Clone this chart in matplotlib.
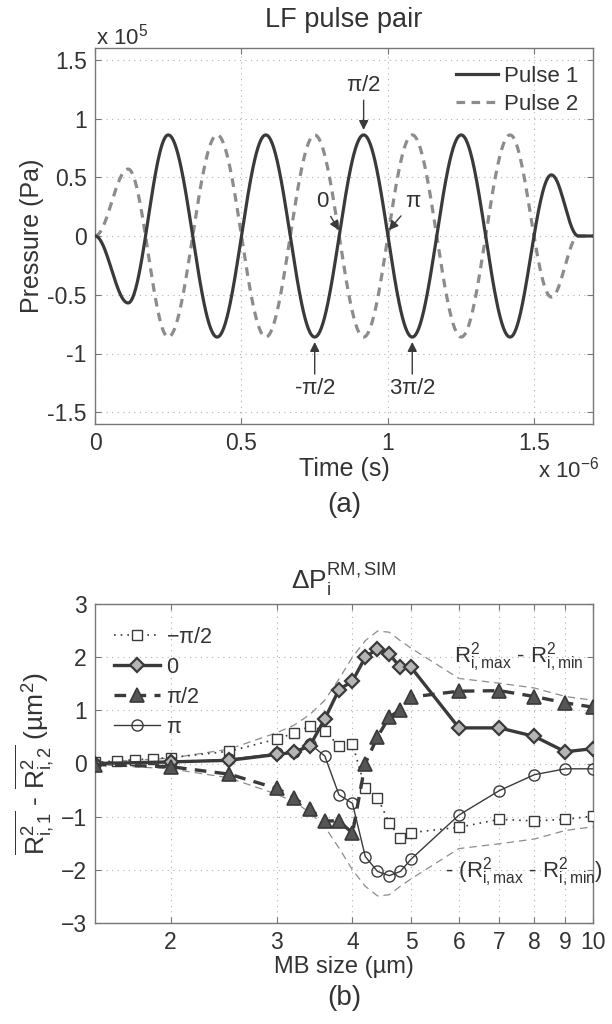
import numpy as np
import matplotlib
matplotlib.use("Agg")
import matplotlib.pyplot as plt

plt.rcParams['font.family'] = ['Liberation Sans', 'DejaVu Sans']
plt.rcParams['mathtext.fontset'] = 'custom'
plt.rcParams['mathtext.rm'] = 'Liberation Sans'
plt.rcParams['mathtext.it'] = 'Liberation Sans:italic'
plt.rcParams['mathtext.sf'] = 'Liberation Sans'
plt.rcParams['mathtext.default'] = 'regular'

# ---------------- data: (a) LF pulse pair (extrema) ----------------
pulse_time_us = [0.0, 0.113, 0.25, 0.417, 0.583, 0.75, 0.917, 1.083, 1.25, 1.417, 1.558, 1.65, 1.70]
pulse1_1e5Pa = [0.0, -0.57, 0.86, -0.86, 0.86, -0.86, 0.86, -0.86, 0.86, -0.86, 0.52, 0.0, 0.0]
pulse2_1e5Pa = [0.0, 0.57, -0.86, 0.86, -0.86, 0.86, -0.86, 0.86, -0.86, 0.86, -0.52, 0.0, 0.0]
pulse_labels = ["Pulse 1", "Pulse 2"]
top_yticks = [-1.5, -1, -0.5, 0, 0.5, 1, 1.5]
top_ytick_labels = ["-1.5", "-1", "-0.5", "0", "0.5", "1", "1.5"]
top_xticks = [0, 0.5, 1, 1.5]
top_xtick_labels = ["0", "0.5", "1", "1.5"]

# ---------------- data: (b) ΔP_i^{RM,SIM} ----------------
mb_size = [1.5, 2, 2.5, 3, 3.2, 3.4, 3.6, 3.8, 4, 4.2, 4.4, 4.6, 4.8, 5, 6, 7, 8, 9, 10]
mb_size_mpi2 = [1.5, 1.63, 1.75, 1.87, 2, 2.5, 3, 3.2, 3.4, 3.6, 3.8, 4, 4.2, 4.4, 4.6, 4.8, 5, 6, 7, 8, 9, 10]
phase_mpi2 = [0.02, 0.05, 0.07, 0.09, 0.11, 0.23, 0.46, 0.57, 0.70, 0.62, 0.32, 0.37, -0.47, -0.64, -1.11, -1.41, -1.30,
              -1.20, -1.05, -1.08, -1.05, -0.99]
phase_0 = [0.0, 0.03, 0.06, 0.17, 0.21, 0.33, 0.84, 1.39, 1.55, 2.00, 2.16, 2.06, 1.81, 1.81, 0.67, 0.67, 0.51, 0.22, 0.28]
phase_pi2 = [-0.02, -0.06, -0.20, -0.47, -0.64, -0.86, -1.08, -1.08, -1.31, 0.0, 0.50, 0.87, 1.01, 1.25, 1.36, 1.37,
             1.26, 1.14, 1.06]
phase_pi = [0.0, 0.02, 0.08, 0.19, 0.21, 0.37, 0.14, -0.59, -0.75, -1.75, -2.03, -2.11, -2.03, -1.80, -0.97, -0.51,
            -0.21, -0.10, -0.10]
r2_range = [0.02, 0.10, 0.27, 0.58, 0.72, 0.92, 1.19, 1.59, 2.00, 2.31, 2.49, 2.47, 2.31, 2.17, 1.60, 1.51, 1.42, 1.26, 1.19]
phase_labels = [r"$-\pi/2$", "0", r"$\pi/2$", r"$\pi$"]
bot_xticks = [2, 3, 4, 5, 6, 7, 8, 9, 10]
bot_xtick_labels = ["2", "3", "4", "5", "6", "7", "8", "9", "10"]
bot_yticks = [-3, -2, -1, 0, 1, 2, 3]

DARK = "#3a3a3a"
GRAY = "#8c8c8c"
TXT = "#333333"
SPINE = "#777777"
TICK_FS = 16.5
LABEL_FS = 18


def smooth_through(tk, yk, n=60):
    """Draw a smooth curve through read extrema (half-cosine between neighbours)."""
    ts, ys = [], []
    for i in range(len(tk) - 1):
        s = np.linspace(0, 1, n, endpoint=False)
        ts.append(tk[i] + (tk[i + 1] - tk[i]) * s)
        ys.append(yk[i] + (yk[i + 1] - yk[i]) * (1 - np.cos(np.pi * s)) / 2)
    ts.append([tk[-1]])
    ys.append([yk[-1]])
    return np.concatenate(ts), np.concatenate(ys)


def style_axes(ax):
    for sp in ax.spines.values():
        sp.set_color(SPINE)
        sp.set_linewidth(1.0)
    ax.tick_params(direction='in', top=True, right=True, length=4, color=SPINE,
                   labelsize=TICK_FS, labelcolor=TXT, pad=6)
    ax.grid(True, linestyle=(0, (1, 4)), color="#b0b0b0", linewidth=0.8)


fig = plt.figure(figsize=(6.12, 10.24), dpi=100)
W, H = 612.0, 1024.0

# ---------------- (a) ----------------
ax1 = fig.add_axes([95 / W, 1 - 424 / H, 498 / W, 376 / H])
t1, y1 = smooth_through(pulse_time_us, pulse1_1e5Pa)
t2, y2 = smooth_through(pulse_time_us, pulse2_1e5Pa)
ax1.plot(t1, y1, color=DARK, lw=2.3, label=pulse_labels[0], zorder=3)
ax1.plot(t2, y2, color=GRAY, lw=2.3, ls=(0, (2.7, 2.0)), label=pulse_labels[1], zorder=2)
ax1.set_xlim(0, 1.7)
ax1.set_ylim(-1.6, 1.6)
ax1.set_xticks(top_xticks)
ax1.set_xticklabels(top_xtick_labels)
ax1.set_yticks(top_yticks)
ax1.set_yticklabels(top_ytick_labels)
style_axes(ax1)
ax1.set_ylabel("Pressure (Pa)", fontsize=LABEL_FS, color=TXT)
ax1.yaxis.set_label_coords(-0.102, 0.5)
ax1.set_xlabel("Time (s)", fontsize=LABEL_FS, color=TXT, labelpad=1)
leg1 = ax1.legend(loc='upper right', frameon=False, fontsize=16, handlelength=1.9,
                  handletextpad=0.25, labelspacing=0.3, bbox_to_anchor=(1.01, 1.005))
for tx in leg1.get_texts():
    tx.set_color(TXT)

arrow_kw = dict(arrowstyle='-|>', color=DARK, lw=1.0, mutation_scale=14, shrinkA=1, shrinkB=1)
ann_fs = 16
ax1.annotate(r"$\pi/2$", xy=(0.917, 0.89), xytext=(0.917, 1.28), ha='center', va='center',
             fontsize=ann_fs, color=TXT, arrowprops=arrow_kw)
ax1.annotate("0", xy=(0.835, 0.04), xytext=(0.775, 0.29), ha='center', va='center',
             fontsize=ann_fs, color=TXT, arrowprops=arrow_kw)
ax1.annotate(r"$\pi$", xy=(1.0, 0.04), xytext=(1.085, 0.29), ha='center', va='center',
             fontsize=ann_fs, color=TXT, arrowprops=arrow_kw)
ax1.annotate(r"-$\pi/2$", xy=(0.75, -0.89), xytext=(0.75, -1.30), ha='center', va='center',
             fontsize=ann_fs, color=TXT, arrowprops=arrow_kw)
ax1.annotate(r"3$\pi/2$", xy=(1.083, -0.89), xytext=(1.083, -1.30), ha='center', va='center',
             fontsize=ann_fs, color=TXT, arrowprops=arrow_kw)

fig.text(344 / W, 1 - 20 / H, "LF pulse pair", ha='center', va='center', fontsize=19.5, color=TXT)
fig.text(96 / W, 1 - 37 / H, r"x 10$^5$", ha='left', va='center', fontsize=16, color=TXT)
fig.text(538 / W, 1 - 470 / H, r"x 10$^{-6}$", ha='left', va='center', fontsize=16, color=TXT)
fig.text(344 / W, 1 - 505 / H, "(a)", ha='center', va='center', fontsize=20, color=TXT)

# ---------------- (b) ----------------
ax2 = fig.add_axes([95 / W, 1 - 923 / H, 498 / W, 319 / H])
env = np.array(r2_range)
ax2.plot(mb_size, env, color=GRAY, lw=0.9, ls=(0, (6, 4)), zorder=1)
ax2.plot(mb_size, -env, color=GRAY, lw=0.9, ls=(0, (6, 4)), zorder=1)
ax2.plot(mb_size_mpi2, phase_mpi2, color=DARK, lw=1.2, ls=(0, (1, 3)), marker='s', ms=7,
         mfc='white', mec=DARK, mew=1.0, label=phase_labels[0], zorder=3)
ax2.plot(mb_size, phase_0, color=DARK, lw=2.4, marker='D', ms=7.5, mfc='#b5b5b5', mec=DARK, mew=1.6,
         label=phase_labels[1], zorder=4)
ax2.plot(mb_size, phase_pi2, color=DARK, lw=2.4, ls=(0, (3.5, 2.5)), marker='^', ms=10, mfc='#555555',
         mec=DARK, mew=1.2, label=phase_labels[2], zorder=4)
ax2.plot(mb_size, phase_pi, color=DARK, lw=1.0, marker='o', ms=8, mfc='none', mec=DARK, mew=1.0,
         label=phase_labels[3], zorder=3)
ax2.set_xscale('log')
ax2.set_xlim(1.5, 10)
ax2.set_ylim(-3, 3)
ax2.set_xticks(bot_xticks)
ax2.set_xticklabels(bot_xtick_labels)
ax2.xaxis.set_minor_locator(matplotlib.ticker.NullLocator())
ax2.set_yticks(bot_yticks)
style_axes(ax2)
ax2.set_xlabel("MB size (µm)", fontsize=17, color=TXT, labelpad=1)
ax2.set_ylabel(r"$\overline{R^2_{i,1}}$ - $\overline{R^2_{i,2}}$ (µm$^2$)", fontsize=19, color=TXT)
ax2.yaxis.set_label_coords(-0.078, 0.5)
leg2 = ax2.legend(loc='upper left', frameon=False, fontsize=15.5, handlelength=2.1,
                  handletextpad=0.3, labelspacing=0.42, bbox_to_anchor=(0.0, 0.99))
for tx in leg2.get_texts():
    tx.set_color(TXT)
ax2.text(5.9, 2.0, r"R$^2_{i,max}$ - R$^2_{i,min}$", fontsize=16, color=TXT, ha='left', va='center')
ax2.text(5.7, -2.05, r"- (R$^2_{i,max}$ - R$^2_{i,min}$)", fontsize=16, color=TXT, ha='left', va='center')

fig.text(344 / W, 1 - 580 / H, r"$\Delta P_i^{RM,SIM}$", ha='center', va='center', fontsize=19, color=TXT)
fig.text(344 / W, 1 - 998 / H, "(b)", ha='center', va='center', fontsize=20, color=TXT)

fig.savefig("out.png", dpi=100)
